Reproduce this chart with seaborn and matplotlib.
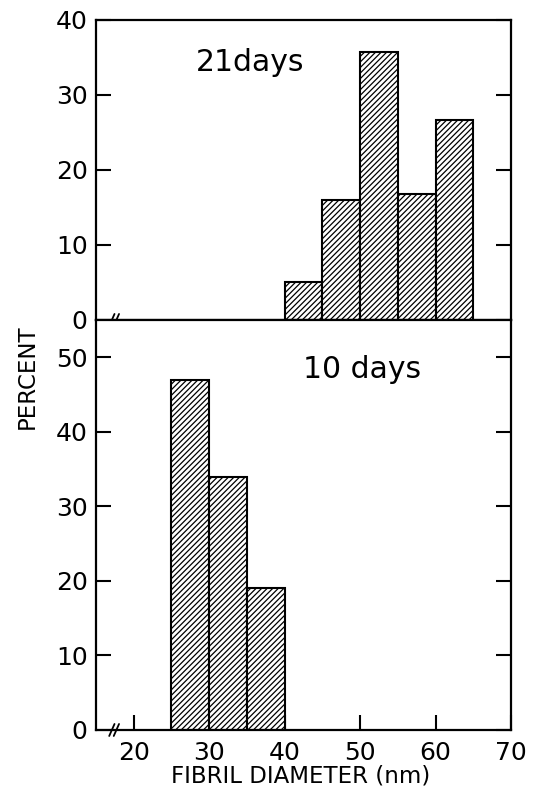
import numpy as np
import matplotlib
matplotlib.use('Agg')
import matplotlib.pyplot as plt
import seaborn as sns

# fibril diameter bins (nm) and percent of fibrils
DAY21_EDGES = [40, 45, 50, 55, 60, 65]
DAY21_CENTERS = [42.5, 47.5, 52.5, 57.5, 62.5]
DAY21_PCT = [5, 16, 35.7, 16.8, 26.6]

DAY10_EDGES = [25, 30, 35, 40]
DAY10_CENTERS = [27.5, 32.5, 37.5]
DAY10_PCT = [47, 34, 19]

X_TICKS = [20, 30, 40, 50, 60, 70]
TOP_YTICKS = [0, 10, 20, 30, 40]
BOT_YTICKS = [0, 10, 20, 30, 40, 50]

sns.set_style('ticks')
plt.rcParams['font.family'] = ['DejaVu Sans']
plt.rcParams['text.color'] = 'black'
plt.rcParams['xtick.labelcolor'] = 'black'
plt.rcParams['ytick.labelcolor'] = 'black'
plt.rcParams['hatch.linewidth'] = 0.9
plt.rcParams['axes.linewidth'] = 1.6

fig = plt.figure(figsize=(5.37, 7.92), dpi=100)
ax_top = fig.add_axes([0.1788, 0.596, 0.7728, 0.3788])
ax_bot = fig.add_axes([0.1788, 0.0783, 0.7728, 0.5177])

for ax, cen, pct, edges in [(ax_top, DAY21_CENTERS, DAY21_PCT, DAY21_EDGES),
                            (ax_bot, DAY10_CENTERS, DAY10_PCT, DAY10_EDGES)]:
    sns.histplot(x=cen, weights=pct, bins=edges, ax=ax, color='white',
                 edgecolor='black', linewidth=1.5, alpha=1, legend=False)
    for p in ax.patches:
        p.set_hatch('//////')
    ax.set_xlim(15, 70)
    ax.set_xlabel('')
    ax.set_ylabel('')
    for s in ax.spines.values():
        s.set_visible(True)
        s.set_color('black')
        s.set_linewidth(1.6)
    ax.tick_params(axis='y', direction='in', length=11, width=1.5,
                   left=True, right=True, labelsize=18, pad=6, color='black')
    # axis break marks on the zero line
    tr = ax.get_xaxis_transform()
    dy = 6 / (ax.get_position().height * 792)
    for xb in (17.1, 17.7):
        ax.plot([xb - 0.35, xb + 0.35], [-dy, dy], color='black', lw=1.3,
                transform=tr, clip_on=False, zorder=5)

ax_top.set_ylim(0, 40)
ax_top.set_yticks(TOP_YTICKS)
ax_top.set_yticklabels([str(t) for t in TOP_YTICKS])
ax_top.tick_params(axis='x', bottom=False, labelbottom=False)

ax_bot.set_ylim(0, 55)
ax_bot.set_yticks(BOT_YTICKS)
ax_bot.set_yticklabels([str(t) for t in BOT_YTICKS])
ax_bot.set_xticks(X_TICKS)
ax_bot.set_xticklabels([str(t) for t in X_TICKS])
ax_bot.tick_params(axis='x', direction='in', length=11, width=1.5,
                   labelsize=18, pad=8, color='black')

ax_top.text(28.2, 34.3, '21days', fontsize=21.5, va='center', ha='left')
ax_bot.text(42.4, 48.4, '10 days', fontsize=21.5, va='center', ha='left')

fig.text(0.5605, 0.006, 'FIBRIL DIAMETER (nm)', fontsize=16.5,
         ha='center', va='bottom')
fig.text(0.05, 0.525, 'PERCENT', fontsize=16.5, rotation=90,
         ha='center', va='center')

plt.savefig('out.png', dpi=100)
plt.close()
